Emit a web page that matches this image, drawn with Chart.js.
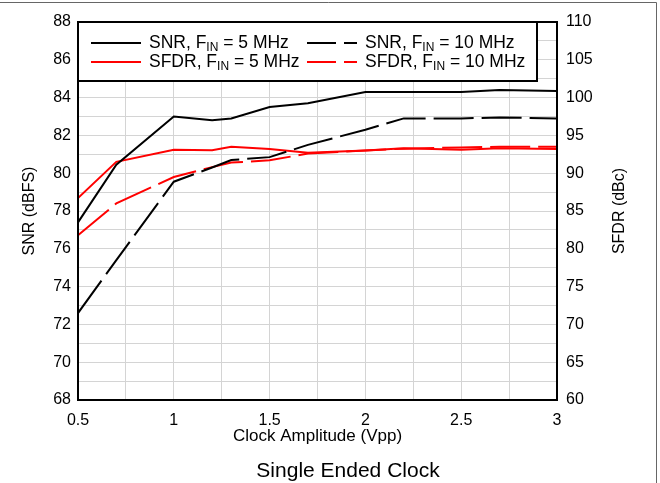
<!DOCTYPE html>
<html>
<head>
<meta charset="utf-8">
<script src="https://cdn.jsdelivr.net/npm/chart.js@4"></script>
<style>
  body { margin: 0; background: #fff; }
  #wrap { width: 660px; height: 483px; }
</style>
</head>
<body>
<div id="wrap"><canvas id="myChart"></canvas></div>
<script>
// data
var clockVpp = [0.5, 0.7, 1.0, 1.2, 1.3, 1.5, 1.7, 2.0, 2.2, 2.5, 2.7, 3.0];
var snr5 = [77.4, 80.45, 83.0, 82.8, 82.9, 83.5, 83.7, 84.3, 84.3, 84.3, 84.4, 84.35];
var snr10 = [72.6, 75.4, 79.55, 80.3, 80.7, 80.85, 81.5, 82.3, 82.9, 82.9, 82.95, 82.9];
var sfdr5 = [86.7, 91.5, 93.1, 93.05, 93.5, 93.2, 92.7, 93.0, 93.3, 93.1, 93.3, 93.2];
var sfdr10 = [81.8, 86.0, 89.5, 90.8, 91.4, 91.7, 92.6, 93.0, 93.25, 93.4, 93.5, 93.5];
var xTicks = [0.5, 1, 1.5, 2, 2.5, 3];
var seriesNames = ["SNR, F|IN| = 5 MHz", "SNR, F|IN| = 10 MHz", "SFDR, F|IN| = 5 MHz", "SFDR, F|IN| = 10 MHz"];

var FONT = "'Liberation Sans', Arial, sans-serif";
var DASH = [40, 8];

function pts(ys) {
    return clockVpp.map(function (x, i) { return { x: x, y: ys[i] }; });
}

function mkSet(ys, color, dashed, axis) {
    return {
        data: pts(ys),
        yAxisID: axis,
        borderColor: color,
        backgroundColor: color,
        borderWidth: 2,
        borderDash: dashed ? DASH : [],
        pointRadius: 0,
        tension: 0,
        fill: false
    };
}

// frame, legend box with subscripts, right title, caption, outer border
var decor = {
    id: "decor",
    afterDatasetsDraw: function (chart) {
        var ctx = chart.ctx, a = chart.chartArea;
        ctx.save();
        ctx.strokeStyle = "#000";
        ctx.lineWidth = 2;
        ctx.strokeRect(a.left, a.top, a.right - a.left, a.bottom - a.top);

        // legend box
        var lx = a.left, ly = a.top, lw = 459, lh = 59;
        ctx.fillStyle = "#fff";
        ctx.fillRect(lx, ly, lw, lh);
        ctx.strokeRect(lx, ly, lw, lh);

        var cols = [91, 307];
        var rows = [ly + 21, ly + 40];
        var colors = ["#000", "#000", "#ff0000", "#ff0000"];
        var dashed = [false, true, false, true];
        var order = [[0, 0], [1, 0], [0, 1], [1, 1]];
        for (var i = 0; i < 4; i++) {
            var cx = cols[order[i][0]], cy = rows[order[i][1]];
            ctx.beginPath();
            ctx.setLineDash(dashed[i] ? [29, 8] : []);
            ctx.strokeStyle = colors[i];
            ctx.lineWidth = 2;
            ctx.moveTo(cx, cy);
            ctx.lineTo(cx + 50, cy);
            ctx.stroke();
            ctx.setLineDash([]);
            // text with subscript part between bars
            var parts = seriesNames[i].split("|");
            var tx = cx + 58;
            ctx.fillStyle = "#000";
            ctx.textBaseline = "middle";
            ctx.textAlign = "left";
            ctx.font = "17.5px " + FONT;
            ctx.fillText(parts[0], tx, cy);
            tx += ctx.measureText(parts[0]).width;
            ctx.font = "12px " + FONT;
            ctx.fillText(parts[1], tx, cy + 5);
            tx += ctx.measureText(parts[1]).width;
            ctx.font = "17.5px " + FONT;
            ctx.fillText(parts[2], tx, cy);
        }
        ctx.restore();

        // right axis title, reads bottom to top
        ctx.save();
        ctx.translate(620, (a.top + a.bottom) / 2);
        ctx.rotate(-Math.PI / 2);
        ctx.font = "16px " + FONT;
        ctx.textAlign = "center";
        ctx.textBaseline = "middle";
        ctx.fillStyle = "#000";
        ctx.fillText("SFDR (dBc)", 0, 0);
        ctx.restore();

        // caption under the chart
        ctx.save();
        ctx.font = "21px " + FONT;
        ctx.textAlign = "center";
        ctx.textBaseline = "middle";
        ctx.fillStyle = "#000";
        ctx.fillText("Single Ended Clock", 348, 471);
        ctx.restore();

        // outer border of the figure
        ctx.save();
        ctx.strokeStyle = "#666";
        ctx.lineWidth = 1;
        ctx.beginPath();
        ctx.moveTo(0, 2.5);
        ctx.lineTo(656.5, 2.5);
        ctx.lineTo(656.5, 483);
        ctx.stroke();
        ctx.restore();
    }
};

Chart.defaults.font.family = FONT;
Chart.defaults.color = "#000";

new Chart("myChart", {
    type: "line",
    data: {
        datasets: [
            mkSet(snr5, "#000", false, "y"),
            mkSet(snr10, "#000", true, "y"),
            mkSet(sfdr5, "#ff0000", false, "y2"),
            mkSet(sfdr10, "#ff0000", true, "y2")
        ]
    },
    options: {
        responsive: true,
        maintainAspectRatio: false,
        animation: false,
        layout: { padding: { top: 22, left: 0, right: 0, bottom: 33 } },
        plugins: {
            legend: { display: false },
            tooltip: { enabled: false },
            title: { display: false }
        },
        scales: {
            x: {
                type: "linear",
                min: 0.5,
                max: 3,
                afterFit: function (s) { s.height = 50; },
                afterBuildTicks: function (s) {
                    s.ticks = [];
                    for (var v = 0.5; v <= 3.001; v += 0.25) s.ticks.push({ value: Math.round(v * 100) / 100 });
                },
                ticks: {
                    padding: 11,
                    font: { size: 16 },
                    maxRotation: 0,
                    autoSkip: false,
                    callback: function (v) { return xTicks.indexOf(v) >= 0 ? String(v) : ""; }
                },
                grid: { color: "#d4d4d4", lineWidth: 1, drawTicks: false },
                border: { display: false },
                title: {
                    display: true,
                    text: "Clock Amplitude (Vpp)",
                    font: { size: 17 },
                    padding: { top: 0, bottom: 3 }
                }
            },
            y: {
                position: "left",
                min: 68,
                max: 88,
                afterFit: function (s) { s.width = 78; },
                ticks: {
                    stepSize: 1,
                    padding: 7,
                    font: { size: 16 },
                    autoSkip: false,
                    callback: function (v) { return v % 2 === 0 ? String(v) : ""; }
                },
                grid: { color: "#d4d4d4", lineWidth: 1, drawTicks: false },
                border: { display: false },
                title: {
                    display: true,
                    text: "SNR (dBFS)",
                    font: { size: 16 },
                    padding: { top: 20, bottom: 0 }
                }
            },
            y2: {
                position: "right",
                min: 60,
                max: 110,
                afterFit: function (s) { s.width = 103; },
                ticks: { stepSize: 5, padding: 9, font: { size: 16 } },
                grid: { display: false, drawTicks: false },
                border: { display: false }
            }
        }
    },
    plugins: [decor]
});
</script>
</body>
</html>
